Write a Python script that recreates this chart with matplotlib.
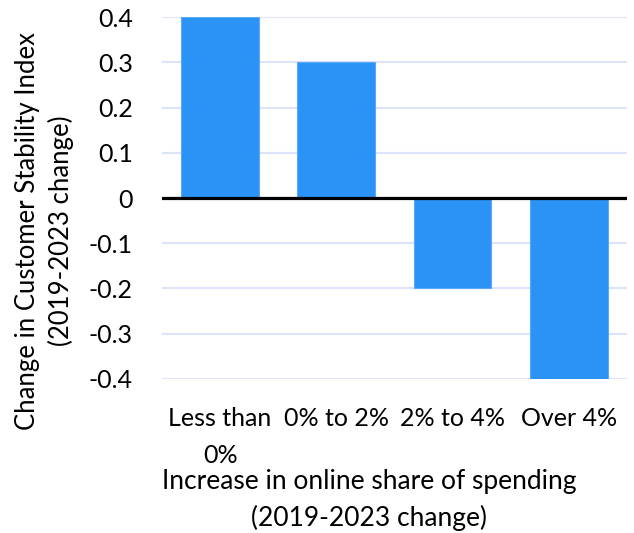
import numpy as np
import matplotlib
matplotlib.use("Agg")
from matplotlib import pyplot as plt

categories = ["Less than\n0%", "0% to 2%", "2% to 4%", "Over 4%"]
values = [0.4, 0.3, -0.2, -0.4]
yticks = [-0.4, -0.3, -0.2, -0.1, 0.0, 0.1, 0.2, 0.3, 0.4]
ytick_labels = ["-0.4", "-0.3", "-0.2", "-0.1", "0", "0.1", "0.2", "0.3", "0.4"]

plt.rcParams['font.family'] = ['Lato', 'DejaVu Sans']

fig = plt.figure(figsize=(6.34, 5.33), dpi=100)
ax = fig.add_axes([0.2555, 0.289, 0.733, 0.679])

x = np.arange(len(categories))
ax.bar(x, values, width=0.67, color="#2B93F5", edgecolor="#5AAAF5", linewidth=0.8, zorder=2)
ax.axhline(0, color="black", linewidth=2.3, zorder=3)

ax.set_xlim(-0.5, len(categories) - 0.5)
ax.set_ylim(-0.4, 0.4)
ax.set_yticks(yticks)
ax.set_yticklabels(ytick_labels)
ax.set_xticks(x)
ax.set_xticklabels(categories, linespacing=1.75)
ax.yaxis.grid(True, color="#DDE3FA", linewidth=1.5, zorder=0)
ax.set_axisbelow(True)
for s in ax.spines.values():
    s.set_visible(False)
ax.tick_params(axis='both', length=0, labelsize=18)
ax.tick_params(axis='y', pad=21)
ax.tick_params(axis='x', pad=20)

ax.set_xlabel("Increase in online share of spending\n(2019-2023 change)",
              fontsize=19, linespacing=1.5)
ax.xaxis.set_label_coords(0.445, -0.25)
ax.set_ylabel("Change in Customer Stability Index\n(2019-2023 change)",
              fontsize=18.5, linespacing=1.36)
ax.yaxis.set_label_coords(-0.19, 0.41)

fig.savefig("out.png", dpi=100)
